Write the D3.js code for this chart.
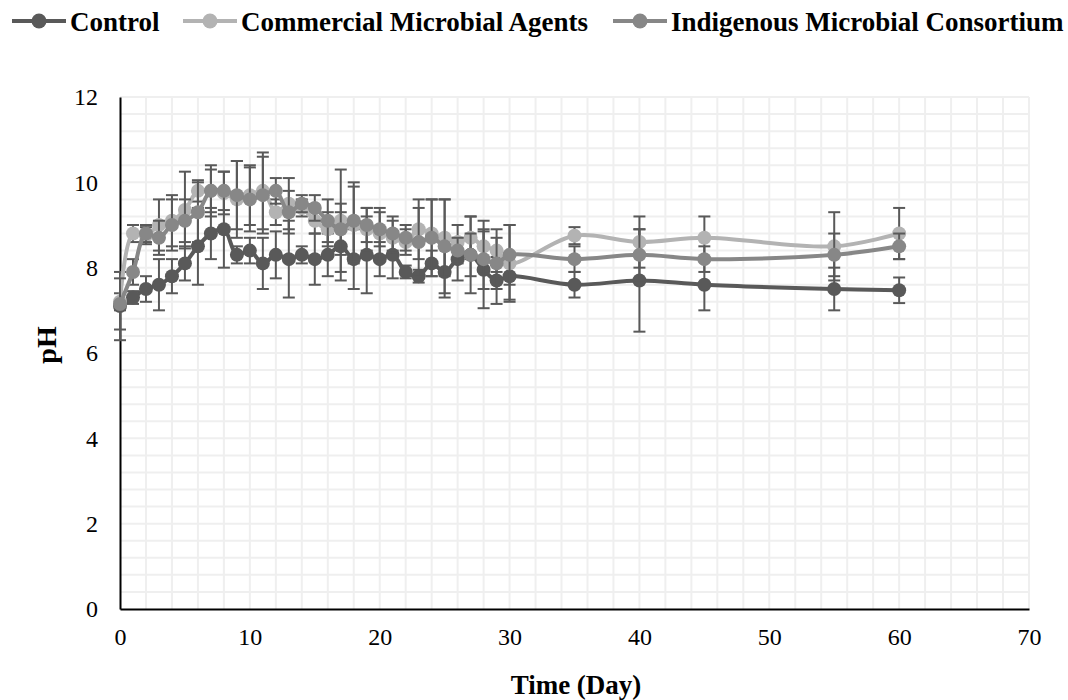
<!DOCTYPE html>
<html>
<head>
<meta charset="utf-8">
<script src="https://cdn.jsdelivr.net/npm/d3@7"></script>
<style>
  html, body { margin: 0; padding: 0; background: #fff; }
  svg { display: block; }
  text { font-family: "Liberation Serif", "Times New Roman", serif; fill: #000; }
</style>
</head>
<body>
<svg id="chart" width="1068" height="700"></svg>
<script>
// Sampling days
const days = [0,1,2,3,4,5,6,7,8,9,10,11,12,13,14,15,16,17,18,19,20,21,22,23,24,25,26,27,28,29,30,35,40,45,55,60];

// Mean pH per treatment
const controlPH = [7.1,7.3,7.5,7.6,7.8,8.1,8.5,8.8,8.9,8.3,8.4,8.1,8.3,8.2,8.3,8.2,8.3,8.5,8.2,8.3,8.2,8.3,7.9,7.8,8.1,7.9,8.2,8.3,7.95,7.7,7.8,7.6,7.7,7.6,7.5,7.47];
const commercialPH = [7.2,8.8,8.75,9.0,9.1,9.35,9.8,9.8,9.75,9.6,9.7,9.8,9.3,9.5,9.4,9.1,8.9,9.1,9.0,8.9,8.8,8.7,8.6,8.9,8.8,8.7,8.6,8.7,8.5,8.4,8.1,8.75,8.6,8.7,8.5,8.8];
const indigenousPH = [7.15,7.9,8.8,8.7,9.0,9.1,9.3,9.8,9.8,9.7,9.6,9.7,9.8,9.3,9.5,9.4,9.1,8.9,9.1,9.0,8.9,8.8,8.7,8.6,8.7,8.5,8.4,8.3,8.2,8.1,8.3,8.2,8.3,8.2,8.3,8.5];

// Standard deviations
const controlErr = [0.8,0.15,0.3,0.6,0.4,0.4,0.9,0.6,0.9,0.2,0.3,0.6,0.55,0.9,0.2,0.6,0.5,0.8,0.7,0.9,0.4,0.55,0.15,0.15,0.3,0.6,0.5,0.9,0.9,0.55,0.55,0.3,1.2,0.6,0.5,0.3];
const commercialErr = [0.2,0.2,0.2,0.6,0.6,0.9,0.25,0.6,0.5,0.9,0.7,0.9,0.3,0.6,0.2,0.3,0.4,1.2,0.9,0.5,0.6,0.4,0.3,0.7,0.8,0.9,0.4,0.5,0.6,0.5,0.9,0.2,0.6,0.5,0.8,0.6];
const indigenousErr = [0.6,0.3,0.2,0.4,0.6,0.5,0.7,0.5,0.45,0.8,0.75,0.9,0.3,0.5,0.2,0.3,0.5,0.6,0.9,0.4,0.4,0.4,0.3,0.8,0.9,1.1,0.3,0.5,0.7,0.6,0.7,0.3,0.6,0.3,0.5,0.3];

const seriesNames = ["Control", "Commercial Microbial Agents", "Indigenous Microbial Consortium"];
const xTicks = [0,10,20,30,40,50,60,70];
const yTicks = [0,2,4,6,8,10,12];

const series = [
  { name: seriesNames[0], values: controlPH, err: controlErr, color: "#595959" },
  { name: seriesNames[1], values: commercialPH, err: commercialErr, color: "#b3b3b3" },
  { name: seriesNames[2], values: indigenousPH, err: indigenousErr, color: "#878787" }
];

const svg = d3.select("#chart");
const x = d3.scaleLinear().domain([0, 70]).range([120, 1029]);
const y = d3.scaleLinear().domain([0, 12]).range([609, 97]);

// Gridlines every 2 days and every 0.4 pH
const grid = svg.append("g").attr("stroke", "#efefef").attr("stroke-width", 2);
grid.selectAll("line.v").data(d3.range(2, 71, 2)).join("line")
  .attr("x1", d => x(d)).attr("x2", d => x(d))
  .attr("y1", y(0)).attr("y2", y(12));
grid.selectAll("line.h").data(d3.range(1, 31).map(i => i * 0.4)).join("line")
  .attr("x1", x(0)).attr("x2", x(70))
  .attr("y1", d => y(d)).attr("y2", d => y(d));

// Axes
const xAxis = svg.append("g").attr("transform", `translate(0,${y(0)})`)
  .call(d3.axisBottom(x).tickValues(xTicks).tickSize(0).tickPadding(19));
const yAxis = svg.append("g").attr("transform", `translate(${x(0)},0)`)
  .call(d3.axisLeft(y).tickValues(yTicks).tickSize(0).tickPadding(22));
[xAxis, yAxis].forEach(a => {
  a.select(".domain").attr("stroke", "#000").attr("stroke-width", 2);
  a.selectAll("text")
    .style("font-family", "'Liberation Serif', 'Times New Roman', serif")
    .style("font-size", "24px").attr("fill", "#000");
});

// Axis titles
svg.append("text").attr("x", 576).attr("y", 694).attr("text-anchor", "middle")
  .style("font-size", "27px").attr("font-weight", "bold").text("Time (Day)");
svg.append("text").attr("transform", `translate(56,345) rotate(-90)`).attr("text-anchor", "middle")
  .style("font-size", "28px").attr("font-weight", "bold").text("pH");

// Series: error bars, smoothed line, markers
const line = d3.line().x(d => x(d.day)).y(d => y(d.v)).curve(d3.curveCatmullRom.alpha(0.5));
series.forEach(s => {
  const pts = days.map((day, i) => ({ day, v: s.values[i], e: s.err[i] }));
  const g = svg.append("g");
  const eb = g.append("g").attr("stroke", "#595959").attr("stroke-width", 2);
  eb.selectAll("line.bar").data(pts).join("line")
    .attr("x1", d => x(d.day)).attr("x2", d => x(d.day))
    .attr("y1", d => y(d.v - d.e)).attr("y2", d => y(d.v + d.e));
  eb.selectAll("line.top").data(pts).join("line")
    .attr("x1", d => x(d.day) - 6).attr("x2", d => x(d.day) + 6)
    .attr("y1", d => y(d.v + d.e)).attr("y2", d => y(d.v + d.e));
  eb.selectAll("line.bot").data(pts).join("line")
    .attr("x1", d => x(d.day) - 6).attr("x2", d => x(d.day) + 6)
    .attr("y1", d => y(d.v - d.e)).attr("y2", d => y(d.v - d.e));
  g.append("path").datum(pts).attr("d", line)
    .attr("fill", "none").attr("stroke", s.color).attr("stroke-width", 4);
  g.selectAll("circle").data(pts).join("circle")
    .attr("cx", d => x(d.day)).attr("cy", d => y(d.v)).attr("r", 7)
    .attr("fill", s.color);
});

// Legend
const legendX = [12, 183, 613];
const lg = svg.append("g");
series.forEach((s, i) => {
  const g = lg.append("g").attr("transform", `translate(${legendX[i]},21)`);
  g.append("line").attr("x1", 0).attr("x2", 54).attr("y1", 0).attr("y2", 0)
    .attr("stroke", s.color).attr("stroke-width", 4);
  g.append("circle").attr("cx", 27).attr("cy", 0).attr("r", 7.5).attr("fill", s.color);
  g.append("text").attr("x", 58).attr("y", 10).style("font-size", "27px").attr("font-weight", "bold").text(s.name);
});
</script>
</body>
</html>
